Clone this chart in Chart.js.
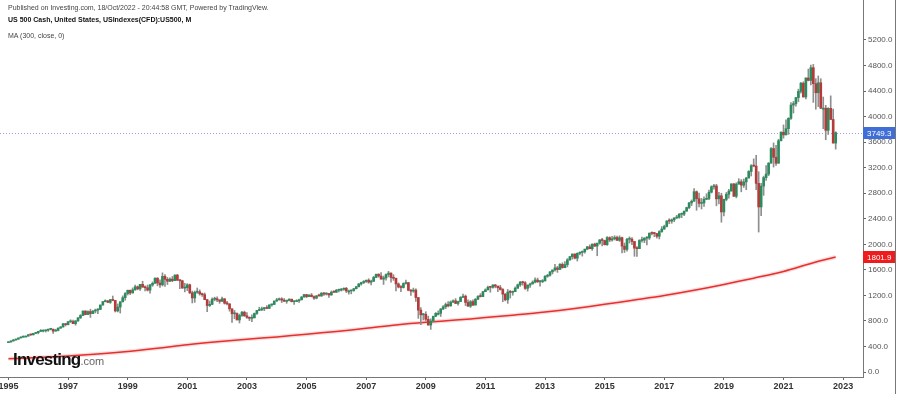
<!DOCTYPE html>
<html>
<head>
<meta charset="utf-8">
<script src="https://cdn.jsdelivr.net/npm/chart.js@4.4.0/dist/chart.umd.min.js"></script>
<style>
  html, body { margin: 0; padding: 0; background: #fff; }
  #wrap { position: relative; width: 900px; height: 394px; overflow: hidden; font-family: "Liberation Sans", Arial, sans-serif; }
  #chart { position: absolute; left: -20px; top: 0; }
  .hdr { position: absolute; left: 8px; white-space: nowrap; line-height: 1; }
  #pub { top: 4px; font-size: 7px; color: #444; }
  #sym { top: 16px; font-size: 7px; font-weight: bold; color: #111; }
  #ma { top: 32px; font-size: 7px; color: #444; }
  #logo { position: absolute; left: 13px; top: 351px; font-size: 17px; font-weight: bold; letter-spacing: -0.8px; color: #111; line-height: 1; }
  #logo span { font-size: 11px; font-weight: normal; letter-spacing: 0; color: #666; }
</style>
</head>
<body>
<div id="wrap">
  <canvas id="chart" width="920" height="394"></canvas>
  <div class="hdr" id="pub">Published on Investing.com, 18/Oct/2022 - 20:44:58 GMT, Powered by TradingView.</div>
  <div class="hdr" id="sym">US 500 Cash, United States, USIndexes(CFD):US500, M</div>
  <div class="hdr" id="ma">MA (300, close, 0)</div>
  <div id="logo">Investing<span>.com</span></div>
</div>
<script>
// monthly candles, Jan 1995 .. Oct 2022
const startYear = 1995;

const opens = [
  459,470,487,501,515,533,545,562,562,584,582,605,
  616,636,640,646,654,669,671,640,652,687,706,757,
  741,786,791,757,801,848,885,954,899,947,915,955,
  970,980,1049,1102,1112,1091,1134,1121,957,1017,1099,1164,
  1229,1280,1238,1286,1335,1302,1373,1329,1320,1283,1363,1389,
  1469,1394,1366,1499,1452,1421,1455,1431,1518,1437,1429,1315,
  1320,1366,1240,1160,1249,1256,1224,1211,1134,1041,1060,1139,
  1148,1130,1107,1147,1077,1067,990,912,916,815,886,936,
  880,856,841,848,917,964,975,990,1008,996,1051,1058,
  1112,1131,1145,1126,1107,1121,1141,1102,1104,1115,1130,1174,
  1212,1181,1204,1181,1157,1192,1191,1234,1220,1229,1207,1249,
  1248,1280,1281,1295,1311,1270,1270,1277,1304,1336,1378,1401,
  1418,1438,1407,1421,1482,1531,1503,1455,1474,1527,1549,1481,
  1468,1379,1331,1323,1386,1400,1280,1267,1283,1166,969,896,
  903,826,735,798,873,919,919,987,1021,1057,1036,1096,
  1115,1074,1104,1169,1187,1089,1031,1102,1049,1141,1183,1181,
  1258,1286,1327,1326,1364,1345,1321,1292,1219,1131,1253,1247,
  1258,1312,1366,1408,1398,1310,1362,1379,1407,1441,1412,1416,
  1426,1498,1515,1569,1598,1631,1606,1686,1633,1682,1757,1806,
  1848,1783,1859,1872,1884,1924,1960,1931,2003,1972,2018,2068,
  2059,1995,2105,2068,2086,2107,2063,2104,1972,1920,2079,2080,
  2044,1940,1932,2060,2065,2097,2099,2174,2171,2168,2126,2199,
  2239,2279,2364,2363,2384,2412,2423,2470,2472,2519,2575,2648,
  2674,2824,2714,2641,2648,2705,2718,2816,2902,2914,2712,2760,
  2507,2704,2784,2834,2946,2752,2942,2980,2926,2977,3038,3141,
  3231,3226,2954,2585,2912,3044,3100,3271,3500,3363,3270,3622,
  3756,3714,3811,3973,4181,4204,4298,4395,4523,4308,4605,4567,
  4766,4516,4374,4530,4132,4132,3785,4130,3955,3586
];

const highs = [
  471,489,508,517,535,551,564,565,587,588,607,622,
  638,665,660,656,674,674,673,670,690,711,757,761,
  794,818,815,805,851,899,957,961,960,983,961,986,
  992,1050,1105,1131,1123,1139,1190,1122,1066,1102,1193,1244,
  1283,1284,1317,1362,1347,1373,1421,1351,1362,1373,1411,1474,
  1478,1445,1553,1527,1481,1475,1497,1523,1531,1446,1438,1389,
  1384,1377,1268,1269,1316,1287,1236,1238,1135,1111,1163,1173,
  1176,1130,1173,1147,1107,1070,990,965,925,907,951,954,
  932,865,895,924,966,1015,1016,1011,1040,1053,1063,1112,
  1155,1159,1164,1151,1128,1146,1141,1109,1132,1141,1183,1217,
  1218,1213,1229,1192,1199,1220,1245,1246,1243,1233,1270,1276,
  1295,1298,1311,1319,1326,1284,1283,1310,1340,1389,1407,1431,
  1441,1461,1438,1498,1535,1540,1556,1503,1539,1576,1553,1524,
  1472,1396,1352,1397,1441,1405,1292,1314,1303,1167,1008,918,
  944,876,832,875,931,957,994,1040,1081,1102,1113,1130,
  1150,1112,1181,1220,1206,1131,1120,1129,1150,1196,1228,1262,
  1303,1344,1333,1366,1371,1346,1356,1307,1230,1293,1278,1269,
  1333,1378,1419,1422,1415,1363,1392,1427,1475,1471,1434,1448,
  1509,1530,1574,1598,1687,1654,1698,1710,1730,1776,1813,1849,
  1851,1867,1884,1897,1925,1968,1991,2006,2019,2019,2076,2093,
  2065,2120,2118,2126,2135,2130,2133,2113,2021,2094,2117,2105,
  2044,1963,2073,2112,2104,2121,2178,2194,2188,2170,2214,2278,
  2301,2371,2401,2398,2418,2454,2484,2491,2519,2582,2657,2695,
  2873,2836,2801,2718,2742,2791,2848,2917,2941,2940,2815,2800,
  2708,2813,2860,2949,2954,2964,3028,3014,3022,3050,3154,3248,
  3338,3394,3137,2954,3068,3233,3280,3515,3588,3550,3646,3760,
  3870,3950,3983,4218,4238,4302,4430,4538,4546,4608,4744,4808,
  4818,4595,4637,4593,4307,4177,4140,4325,4119,3763
];

const lows = [
  459,469,481,500,510,532,545,553,561,572,580,602,
  597,633,627,626,637,659,605,639,645,684,703,721,
  737,775,756,733,793,838,882,896,899,855,915,925,
  912,979,1047,1098,1085,1075,1115,940,940,923,1097,1124,
  1205,1212,1237,1283,1287,1277,1328,1268,1268,1234,1342,1387,
  1350,1326,1347,1339,1370,1415,1413,1431,1434,1305,1311,1255,
  1275,1228,1081,1091,1232,1203,1184,1131,945,1026,1054,1114,
  1101,1075,1106,1063,1049,953,776,834,815,768,872,870,
  840,806,789,847,902,963,962,960,990,995,1031,1056,
  1105,1125,1088,1107,1076,1113,1097,1060,1102,1091,1130,1173,
  1163,1180,1177,1137,1146,1188,1184,1201,1206,1168,1201,1245,
  1245,1253,1268,1280,1245,1219,1224,1264,1302,1331,1360,1385,
  1403,1390,1364,1416,1476,1484,1454,1371,1439,1490,1407,1435,
  1270,1317,1257,1315,1374,1272,1200,1248,1106,840,741,815,
  805,735,667,783,867,892,869,977,993,1020,1030,1086,
  1071,1045,1101,1167,1040,1029,1011,1040,1048,1132,1174,1181,
  1257,1285,1249,1313,1318,1258,1283,1101,1114,1075,1158,1202,
  1258,1311,1340,1358,1292,1267,1325,1378,1396,1403,1343,1398,
  1426,1485,1501,1536,1581,1560,1604,1627,1633,1647,1746,1767,
  1771,1738,1835,1815,1861,1915,1930,1905,1964,1821,2001,1973,
  1988,1981,2040,2048,2068,2057,2045,1867,1872,1893,2020,1993,
  1812,1810,1932,2034,2025,1992,2075,2148,2119,2097,2084,2188,
  2234,2272,2322,2329,2353,2405,2408,2417,2447,2519,2557,2605,
  2674,2533,2585,2553,2594,2699,2699,2803,2864,2603,2631,2346,
  2444,2681,2722,2834,2751,2728,2942,2822,2891,2855,3038,3070,
  3214,2855,2192,2448,2767,2999,3074,3271,3210,3234,3270,3618,
  3662,3714,3723,3955,4056,4165,4233,4367,4305,4279,4560,4496,
  4223,4115,4157,4124,3811,3637,3721,3955,3585,3491
];

const closes = [
  470,487,501,515,533,545,562,562,584,582,605,616,
  636,640,646,654,669,671,640,652,687,706,757,741,
  786,791,757,801,848,885,954,899,947,915,955,970,
  980,1049,1102,1112,1091,1134,1121,957,1017,1099,1164,1229,
  1280,1238,1286,1335,1302,1373,1329,1320,1283,1363,1389,1469,
  1394,1366,1499,1452,1421,1455,1431,1518,1437,1429,1315,1320,
  1366,1240,1160,1249,1256,1224,1211,1134,1041,1060,1139,1148,
  1130,1107,1147,1077,1067,990,912,916,815,886,936,880,
  856,841,848,917,964,975,990,1008,996,1051,1058,1112,
  1131,1145,1126,1107,1121,1141,1102,1104,1115,1130,1174,1212,
  1181,1204,1181,1157,1192,1191,1234,1220,1229,1207,1249,1248,
  1280,1281,1295,1311,1270,1270,1277,1304,1336,1378,1401,1418,
  1438,1407,1421,1482,1531,1503,1455,1474,1527,1549,1481,1468,
  1379,1331,1323,1386,1400,1280,1267,1283,1166,969,896,903,
  826,735,798,873,919,919,987,1021,1057,1036,1096,1115,
  1074,1104,1169,1187,1089,1031,1102,1049,1141,1183,1181,1258,
  1286,1327,1326,1364,1345,1321,1292,1219,1131,1253,1247,1258,
  1312,1366,1408,1398,1310,1362,1379,1407,1441,1412,1416,1426,
  1498,1515,1569,1598,1631,1606,1686,1633,1682,1757,1806,1848,
  1783,1859,1872,1884,1924,1960,1931,2003,1972,2018,2068,2059,
  1995,2105,2068,2086,2107,2063,2104,1972,1920,2079,2080,2044,
  1940,1932,2060,2065,2097,2099,2174,2171,2168,2126,2199,2239,
  2279,2364,2363,2384,2412,2423,2470,2472,2519,2575,2648,2674,
  2824,2714,2641,2648,2705,2718,2816,2902,2914,2712,2760,2507,
  2704,2784,2834,2946,2752,2942,2980,2926,2977,3038,3141,3231,
  3226,2954,2585,2912,3044,3100,3271,3500,3363,3270,3622,3756,
  3714,3811,3973,4181,4204,4298,4395,4523,4308,4605,4567,4766,
  4516,4374,4530,4132,4132,3785,4130,3955,3586,3749.3
];

// MA(300) read at each January (month index from Jan 1995), last point = Oct 2022
const maMonths = [0,12,24,36,48,60,72,84,96,108,120,132,144,156,168,180,192,204,216,228,240,252,264,276,288,300,312,324,333];
const maValues = [208,226,250,281,321,372,428,474,513,550,592,636,684,738,780,813,852,894,940,996,1060,1128,1198,1280,1372,1470,1575,1712,1801.9];

const xTickYears = [1995,1997,1999,2001,2003,2005,2007,2009,2011,2013,2015,2017,2019,2021,2023];
const yTicks = [0,400,800,1200,1600,2000,2400,2800,3200,3600,4000,4400,4800,5200];

const upColor = "#2a8c5c";
const downColor = "#b53a3a";
const wickColor = "#8e8e8e";

const bodyColors = closes.map((c, i) => (c >= opens[i] ? upColor : downColor));

const overlay = {
  id: "overlay",
  beforeDatasetsDraw(chart) {
    const { ctx, chartArea, scales } = chart;
    const y = Math.round(scales.y.getPixelForValue(closes[closes.length - 1])) + 0.5;
    ctx.save();
    ctx.strokeStyle = "#9aa2dc";
    ctx.lineWidth = 1;
    ctx.setLineDash([1, 2]);
    ctx.beginPath();
    ctx.moveTo(chartArea.left, y);
    ctx.lineTo(chartArea.right, y);
    ctx.stroke();
    ctx.restore();
  },
  afterDraw(chart) {
    const { ctx, chartArea, scales } = chart;
    const x0 = chartArea.right;
    const w = 32;
    ctx.save();
    // right border
    ctx.strokeStyle = "#777";
    ctx.lineWidth = 1;
    ctx.beginPath();
    ctx.moveTo(x0 + w + 0.5, 0);
    ctx.lineTo(x0 + w + 0.5, chart.height);
    ctx.stroke();

    const tag = (val, bg) => {
      const y = scales.y.getPixelForValue(val);
      ctx.fillStyle = bg;
      ctx.fillRect(x0, Math.round(y - 6), w, 12);
      ctx.fillStyle = "#fff";
      ctx.font = "8px 'Liberation Sans', Arial, sans-serif";
      ctx.textBaseline = "middle";
      ctx.textAlign = "left";
      ctx.fillText(val.toFixed(1), x0 + 4, Math.round(y - 6) + 6.5);
    };
    tag(closes[closes.length - 1], "#3f6fd6");
    tag(maValues[maValues.length - 1], "#ee1c1c");
    ctx.restore();
  }
};

new Chart(document.getElementById("chart"), {
  type: "bar",
  data: {
    datasets: [
      {
        type: "line",
        data: maMonths.map((m, i) => ({ x: m, y: maValues[i] })),
        borderColor: "rgba(240,120,120,0.25)",
        borderWidth: 4,
        pointRadius: 0,
        tension: 0.3,
        order: 4
      },
      {
        type: "line",
        data: maMonths.map((m, i) => ({ x: m, y: maValues[i] })),
        borderColor: "#e5302e",
        borderWidth: 1.5,
        pointRadius: 0,
        tension: 0.3,
        order: 3
      },
      {
        data: highs.map((h, i) => ({ x: i, y: [lows[i], h] })),
        backgroundColor: wickColor,
        barThickness: 1,
        grouped: false,
        order: 2
      },
      {
        data: opens.map((o, i) => ({ x: i, y: [o, closes[i]] })),
        backgroundColor: bodyColors,
        barThickness: 2,
        minBarLength: 1,
        grouped: false,
        order: 1
      }
    ]
  },
  options: {
    responsive: false,
    animation: false,
    layout: { padding: { left: 20, right: 5, top: 0, bottom: 0 } },
    plugins: { legend: { display: false }, tooltip: { enabled: false } },
    scales: {
      x: {
        type: "linear",
        min: -3.4,
        max: 344,
        offset: false,
        grid: { display: true, drawOnChartArea: false, drawTicks: true, tickLength: 3, color: "#666", offset: false },
        border: { display: true, color: "#777" },
        afterBuildTicks: (s) => { s.ticks = xTickYears.map((yr) => ({ value: (yr - startYear) * 12 })); },
        afterFit: (s) => { s.height = 17; },
        ticks: {
          autoSkip: false,
          maxRotation: 0,
          padding: 1,
          color: "#333",
          font: { family: "'Liberation Sans', Arial, sans-serif", size: 9, weight: "bold" },
          callback: (v) => String(startYear + v / 12)
        }
      },
      y: {
        position: "right",
        min: -78.3,
        max: 5826.5,
        grid: { display: true, drawOnChartArea: false, drawTicks: true, tickLength: 3, color: "#666" },
        border: { display: true, color: "#777" },
        afterBuildTicks: (s) => { s.ticks = yTicks.map((v) => ({ value: v })); },
        afterFit: (s) => { s.width = 32; s.paddingTop = 0; },
        ticks: {
          padding: 2,
          color: "#555",
          font: { family: "'Liberation Sans', Arial, sans-serif", size: 8 },
          callback: (v) => v.toFixed(1)
        }
      }
    }
  },
  plugins: [overlay]
});
</script>
</body>
</html>
